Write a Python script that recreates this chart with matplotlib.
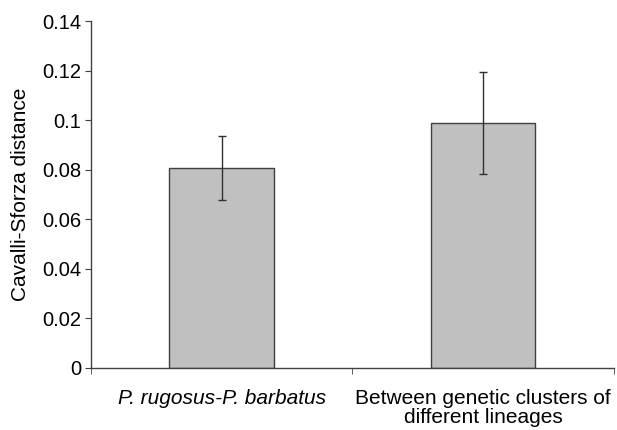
import matplotlib.pyplot as plt

plt.rcParams['font.family'] = ['Liberation Sans', 'DejaVu Sans']

# values
categories = ["P. rugosus-P. barbatus", "Between genetic clusters of\ndifferent lineages"]
distance = [0.0807, 0.0988]
err = [0.0130, 0.0205]
yticks = [0, 0.02, 0.04, 0.06, 0.08, 0.1, 0.12, 0.14]
ytick_labels = ["0", "0.02", "0.04", "0.06", "0.08", "0.1", "0.12", "0.14"]

fig = plt.figure(figsize=(6.17, 4.30), dpi=100)
ax = fig.add_axes([0.1475, 0.1442, 0.8475, 0.8068])

x = list(range(len(categories)))
ax.bar(x, distance, width=0.4, color="#c0c0c0", edgecolor="#404040", linewidth=1.0, zorder=2)
ax.errorbar(x, distance, yerr=err, fmt="none", ecolor="#303030", elinewidth=1.0,
            capsize=3, capthick=1.0, zorder=3)

ax.set_xlim(-0.5, 1.5)
ax.set_ylim(0, 0.14)
ax.set_yticks(yticks)
ax.set_yticklabels(ytick_labels, fontsize=14.5)
ax.set_ylabel("Cavalli-Sforza distance", fontsize=15, labelpad=9)

ax.set_xticks(x)
ax.set_xticklabels(categories, fontsize=15, linespacing=1.0)
ax.get_xticklabels()[0].set_style("italic")
ax.set_xticks([-0.5, 0.5, 1.5], minor=True)
ax.tick_params(axis="x", which="major", length=0, pad=15)
ax.tick_params(axis="x", which="minor", length=4, direction="out", color="#404040")
ax.tick_params(axis="y", length=4, direction="out", color="#404040", pad=3)

for side in ["top", "right"]:
    ax.spines[side].set_visible(False)
for side in ["left", "bottom"]:
    ax.spines[side].set_color("#404040")
    ax.spines[side].set_linewidth(1.0)

fig.savefig("out.png", dpi=100)
